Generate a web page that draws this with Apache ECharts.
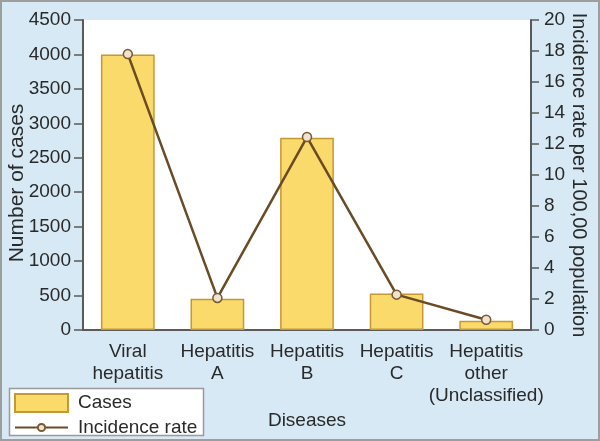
<!DOCTYPE html>
<html>
<head>
<meta charset="utf-8">
<script src="https://cdn.jsdelivr.net/npm/echarts@6/dist/echarts.min.js"></script>
<style>
html,body{margin:0;padding:0;background:#d7e9f5;}
#chart{width:600px;height:441px;}
</style>
</head>
<body>
<div id="chart"></div>
<script>
var categories = ['Viral\nhepatitis', 'Hepatitis\nA', 'Hepatitis\nB', 'Hepatitis\nC', 'Hepatitis\nother\n(Unclassified)'];
var cases = [4000, 455, 2790, 530, 135];
var incidenceRate = [17.8, 2.07, 12.45, 2.28, 0.66];

var txt = '#2a2a2a';
var axisCol = '#5a5a5a';
var font = 'Liberation Sans, Arial, sans-serif';
var fs = 19;

var chart = echarts.init(document.getElementById('chart'), null, {renderer: 'canvas'});
chart.setOption({
  backgroundColor: '#d7e9f5',
  animation: false,
  textStyle: {fontFamily: font, color: txt},
  grid: {left: 83, right: 69, top: 20, bottom: 111, show: true, backgroundColor: '#ffffff', borderWidth: 0,
         containLabel: false, outerBoundsMode: 'none'},
  legend: [{
    orient: 'vertical', left: 14, top: 393, padding: 0,
    itemWidth: 53, itemHeight: 18,
    textStyle: {fontSize: fs, color: txt, fontFamily: font, padding: [0, 0, 0, 5]},
    data: [{name: 'Cases', icon: 'rect'}]
  }, {
    orient: 'vertical', left: 14, top: 418, padding: 0,
    itemWidth: 53, itemHeight: 9,
    textStyle: {fontSize: fs, color: txt, fontFamily: font, padding: [0, 0, 0, 5]},
    data: ['Incidence rate']
  }],
  xAxis: {
    type: 'category', data: categories,
    name: 'Diseases', nameLocation: 'middle', nameGap: 81, nameMoveOverlap: false,
    nameTextStyle: {fontSize: fs, color: txt},
    axisLine: {lineStyle: {color: axisCol, width: 2}},
    axisTick: {show: false},
    axisLabel: {fontSize: fs, color: txt, lineHeight: 22, margin: 11, interval: 0}
  },
  yAxis: [{
    type: 'value', min: 0, max: 4500, interval: 500,
    name: 'Number of cases', nameLocation: 'middle', nameGap: 55, nameRotate: 90, nameMoveOverlap: false,
    nameTextStyle: {fontSize: 21, color: txt, padding: [0, 16, 0, 0]},
    axisLine: {show: true, lineStyle: {color: axisCol, width: 2}},
    axisTick: {show: true, length: 9, lineStyle: {color: axisCol, width: 1.5}},
    axisLabel: {fontSize: fs, color: txt, margin: 12, formatter: function (v) { return String(v); }},
    splitLine: {show: false}
  }, {
    type: 'value', min: 0, max: 20, interval: 2, position: 'right',
    name: 'Incidence rate per 100,00 population', nameLocation: 'middle', nameGap: 38, nameRotate: -90, nameMoveOverlap: false,
    nameTextStyle: {fontSize: 20, color: txt},
    axisLine: {show: true, lineStyle: {color: axisCol, width: 2}},
    axisTick: {show: true, length: 8, lineStyle: {color: axisCol, width: 1.5}},
    axisLabel: {fontSize: fs, color: txt, margin: 13},
    splitLine: {show: false}
  }],
  series: [{
    name: 'Cases', type: 'bar', data: cases, barWidth: '60%',
    itemStyle: {color: '#f9da6a', borderColor: '#c69834', borderWidth: 1.5}
  }, {
    name: 'Incidence rate', type: 'line', yAxisIndex: 1, data: incidenceRate,
    symbol: 'circle', symbolSize: 9,
    lineStyle: {color: '#6b4a26', width: 2.5},
    itemStyle: {color: '#efe3d0', borderColor: '#7a5a35', borderWidth: 1.5}
  }],
  graphic: [{
    type: 'rect', z: -1, silent: true,
    shape: {x: 9.5, y: 388.5, width: 194, height: 47},
    style: {fill: '#ffffff', stroke: '#9a9a9a', lineWidth: 1.5}
  }, {
    type: 'rect', z: 100, silent: true,
    shape: {x: 1, y: 1, width: 598, height: 439},
    style: {fill: 'none', stroke: '#9e9e9e', lineWidth: 2}
  }]
});
</script>
</body>
</html>
